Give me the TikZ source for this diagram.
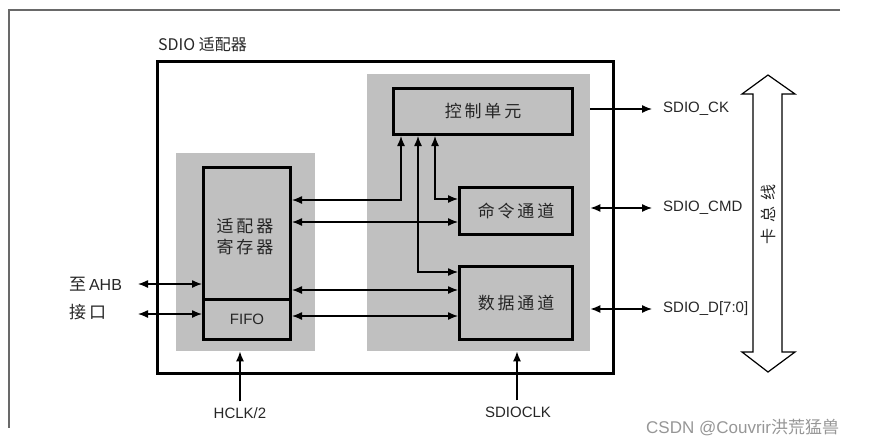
\documentclass[tikz,border=0pt]{standalone}
\usepackage{fontspec}
\setmainfont{Liberation Sans}
\newfontfamily\cjk{Noto Sans CJK SC}
\usetikzlibrary{arrows.meta}
\definecolor{bgG}{RGB}{192,192,192}
\definecolor{frameG}{RGB}{105,105,105}
\definecolor{wmG}{RGB}{150,150,150}
\tikzset{
  region/.style={fill=bgG, draw=none, inner sep=0, anchor=north west},
  blk/.style={draw=black, line width=3, fill=bgG, inner sep=0, anchor=north west},
  con/.style={line width=1.3, draw=black},
  tipR/.style={-{Latex[length=10,width=8]}},
  tipB/.style={{Latex[length=10,width=8]}-{Latex[length=10,width=8]}},
  lbl/.style={inner sep=0, font=\fontsize{15}{18}\selectfont},
  cjklbl/.style={inner sep=0, font=\cjk\fontsize{17}{21}\selectfont, text=black!85},
}
\begin{document}
\begin{tikzpicture}[x=1pt,y=-1pt]
\useasboundingbox (0,0) rectangle (872,447);
% page frame
\draw[frameG, line width=2] (840,10) -- (9,10) -- (9,428);
% outer adapter box
\node[draw=black, line width=3, inner sep=0, anchor=north west, minimum width=456, minimum height=312] (outer) at (156,60) {};
\node[cjklbl, anchor=west, font=\cjk\fontsize{16}{18}\selectfont] (title) at (158,44) {SDIO 适配器};
% gray regions
\node[region, minimum width=139, minimum height=198] (lg) at (176,153) {};
\node[region, minimum width=223, minimum height=277] (rg) at (367,74) {};
% blocks
\node[blk, minimum width=87, minimum height=132] (reg) at (202,166) {};
\node[cjklbl, align=center] (regt) at (245,237) {适\,配\,器\\寄\,存\,器};
\node[blk, minimum width=87, minimum height=40] (fifo) at (202,298) {};
\node[lbl, text=black!85] (fifot) at (fifo.center) {FIFO};
\node[blk, minimum width=179, minimum height=46] (ctrl) at (392,87) {};
\node[cjklbl] (ctrlt) at (ctrl.center) {控\,制\,单\,元};
\node[blk, minimum width=113, minimum height=47] (cmd) at (458,186) {};
\node[cjklbl] (cmdt) at (cmd.center) {命\,令\,通\,道};
\node[blk, minimum width=113, minimum height=73] (data) at (458,265) {};
\node[cjklbl] (datat) at (data.center) {数\,据\,通\,道};
% bend coordinates
\coordinate (k1) at (401,200);
\coordinate (k2) at (418,272);
\coordinate (k3) at (435,199);
% internal connectors
\draw[con, tipB] (reg.east |- k1) -| (ctrl.south -| k1);
\draw[con, tipB] (data.west |- k2) -| (ctrl.south -| k2);
\draw[con, tipB] (cmd.west |- k3) -| (ctrl.south -| k3);
\draw[con, tipB] (reg.east |- 0,222) -- (cmd.west |- 0,222);
\draw[con, tipB] (reg.east |- 0,290) -- (data.west |- 0,290);
\draw[con, tipB] (fifo.east |- 0,316) -- (data.west |- 0,316);
% AHB side
\node[cjklbl, anchor=west, align=left] (ahb1) at (69,284) {至\,{\fontspec{Liberation Sans}\fontsize{16}{18}\selectfont AHB}};
\node[cjklbl, anchor=west] (ahb2) at (69,312) {接\,口};
\coordinate (a1) at (138,284);
\coordinate (a2) at (138,314);
\draw[con, tipB] (a1) -- (reg.west |- a1);
\draw[con, tipB] (a2) -- (fifo.west |- a2);
% clocks
\node[lbl, text=black!85] (hclk) at (240,413) {HCLK/2};
\node[lbl, text=black!85] (sdioclk) at (518,412) {SDIOCLK};
\draw[con, tipR] ([yshift=6]hclk.north) -- (lg.south -| hclk.north);
\draw[con, tipR] ([yshift=6]sdioclk.north -| 517,0) -- (rg.south -| 517,0);
% SDIO lines
\node[lbl, anchor=west, text=black!85] (ck) at (663,109) {SDIO\_CK};
\node[lbl, anchor=west, text=black!85] (cmdl) at (663,208) {SDIO\_CMD};
\node[lbl, anchor=west, text=black!85] (dl) at (663,309) {SDIO\_D[7:0]};
\draw[con, tipR] (rg.east |- ck.west) -- ([xshift=-11]ck.west);
\draw[con, tipB] (rg.east |- cmdl.west) -- ([xshift=-11]cmdl.west);
\draw[con, tipB] (rg.east |- dl.west) -- ([xshift=-11]dl.west);
% card bus big arrow
\draw[line width=1.2, fill=white] (768,75) -- (795,94) -- (782,94) -- (782,352) -- (795,352) -- (768,372) -- (742,352) -- (753,352) -- (753,94) -- (742,94) -- cycle;
\node[cjklbl, rotate=90, font=\cjk\fontsize{16}{18}\selectfont] (bus) at (768,214) {卡\hspace{6pt}总\hspace{6pt}线};
% watermark
\node[inner sep=0, anchor=west, text=wmG, font=\fontsize{17}{19}\selectfont] (wm) at (646,428) {CSDN @Couvrir{\cjk 洪荒猛兽}};
\end{tikzpicture}
\end{document}
